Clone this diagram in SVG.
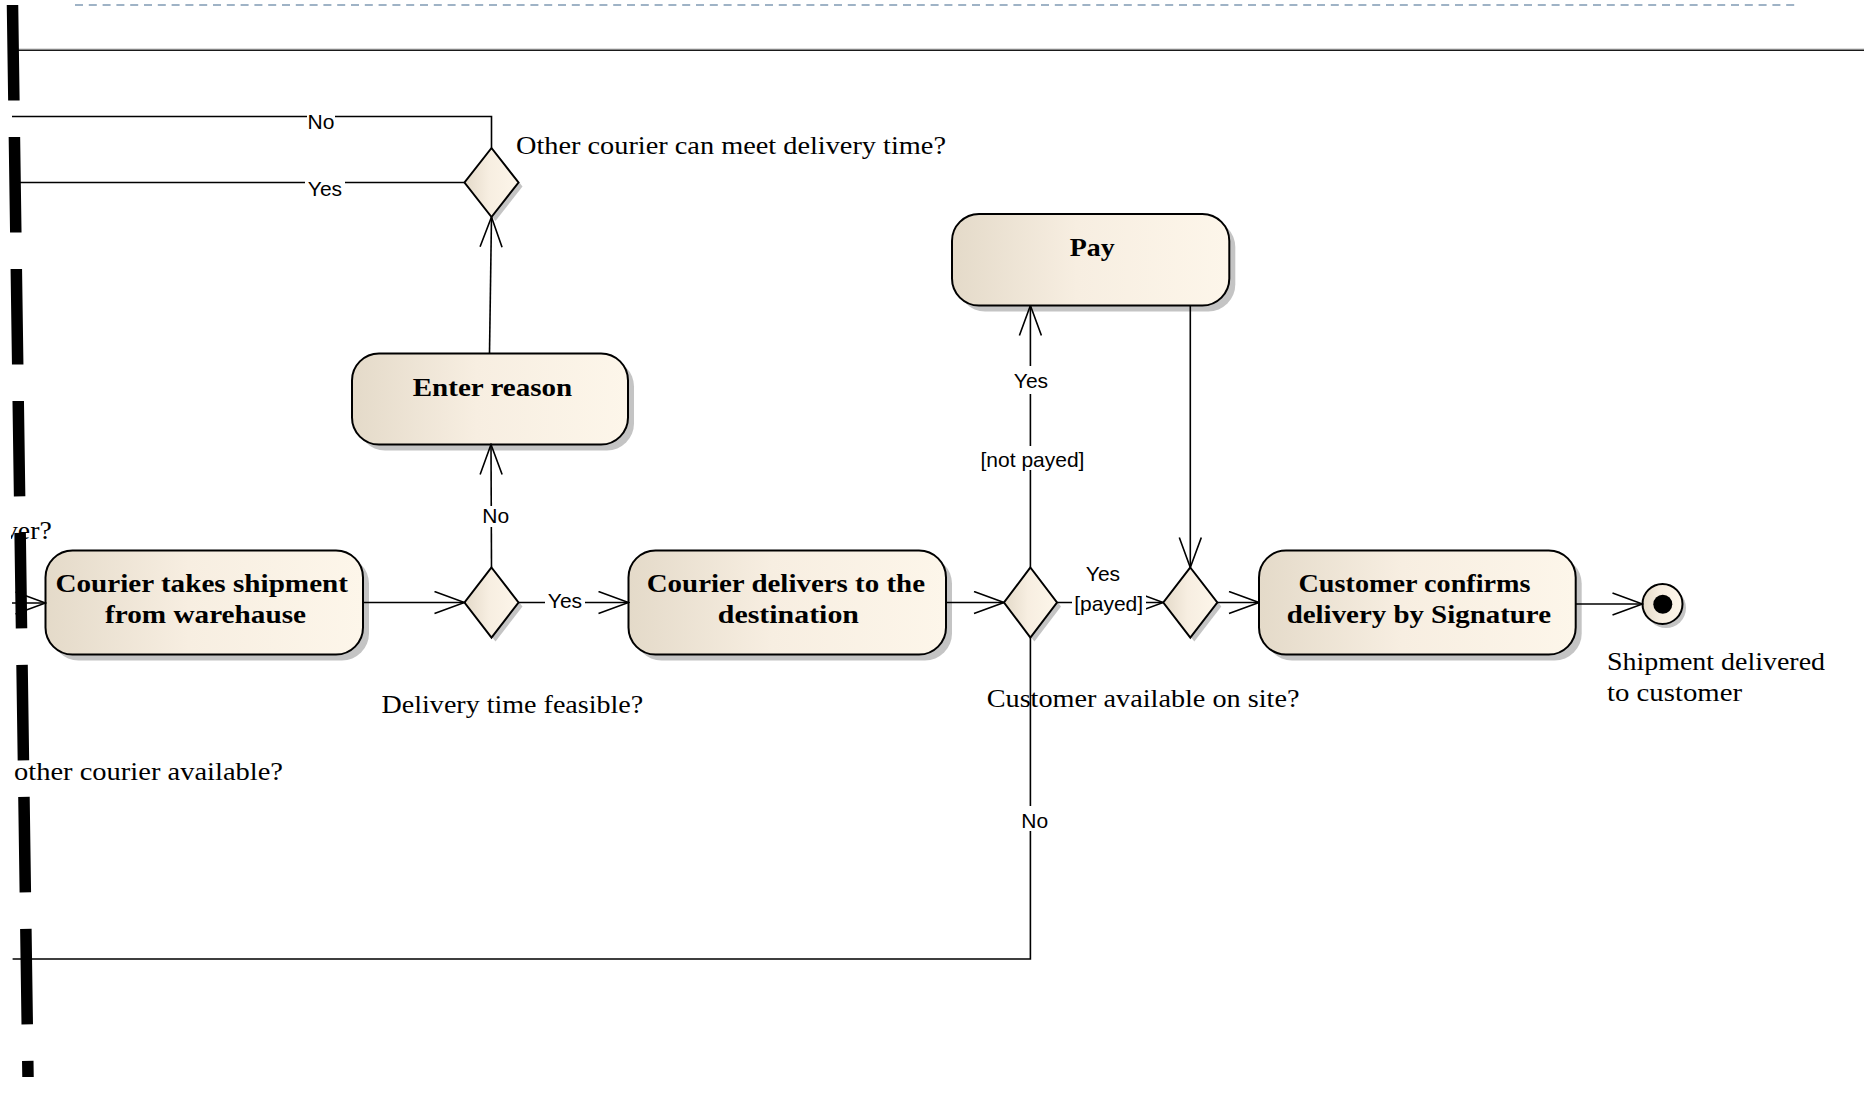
<svg xmlns="http://www.w3.org/2000/svg" width="1864" height="1097" viewBox="0 0 1864 1097">
<style>
.bg{fill:#ffffff}
.node{stroke:#000;stroke-width:2;fill:url(#g)}
.shadow{fill:#c4c4c4;stroke:none}
.conn{fill:none;stroke:#000;stroke-width:1.6}
.arr{marker-end:url(#ah)}
.ntext{font-family:"Liberation Serif","Times New Roman",serif;font-weight:bold;font-size:26px;fill:#000}
.ftext{font-family:"Liberation Serif","Times New Roman",serif;font-size:25px;fill:#000}
.lbl{font-family:"Liberation Sans",Arial,sans-serif;font-size:21px;fill:#000;text-anchor:middle}
.lblbg{fill:#fff}
</style>
<defs>
<linearGradient id="g" x1="0" y1="0" x2="1" y2="0">
<stop offset="0" stop-color="#e4dac9"/>
<stop offset="0.45" stop-color="#f7eee1"/>
<stop offset="1" stop-color="#fdf6ea"/>
</linearGradient>
<marker id="ah" viewBox="0 0 32 24" refX="31" refY="12" markerWidth="32" markerHeight="24" markerUnits="userSpaceOnUse" orient="auto">
<path d="M1,1 L31,12 L1,23" fill="none" stroke="#000" stroke-width="1.6"/>
</marker>
<clipPath id="leftclip"><rect x="11" y="0" width="200" height="1097"/></clipPath>
</defs>
<rect class="bg" x="0" y="0" width="1864" height="1097"/>

<g id="frame">
<line x1="75" y1="5" x2="1800" y2="5" stroke="#9fb3c6" stroke-width="2.2" stroke-dasharray="8 5.8"/>
<line x1="12" y1="48.8" x2="1864" y2="48.8" stroke="#d0d0d0" stroke-width="1"/>
<line x1="12" y1="50.3" x2="1864" y2="50.3" stroke="#1a1a1a" stroke-width="1.5"/>
</g>

<g id="node-enter-reason">
<rect class="shadow" x="358" y="359.5" width="276" height="91" rx="27"/>
<rect class="node" x="352" y="353.5" width="276" height="91" rx="27"/>
<text class="ntext" x="412.7" y="395.7" textLength="159.6" lengthAdjust="spacingAndGlyphs">Enter reason</text>
</g>

<g id="node-courier-takes">
<rect class="shadow" x="51.5" y="556.5" width="317.5" height="104" rx="27"/>
<rect class="node" x="45.5" y="550.5" width="317.5" height="104" rx="27"/>
<text class="ntext" x="55.4" y="592.3" textLength="292.6" lengthAdjust="spacingAndGlyphs">Courier takes shipment</text>
<text class="ntext" x="105" y="623.3" textLength="201" lengthAdjust="spacingAndGlyphs">from warehause</text>
</g>

<g id="node-courier-delivers">
<rect class="shadow" x="634.5" y="556.5" width="317.5" height="104" rx="27"/>
<rect class="node" x="628.5" y="550.5" width="317.5" height="104" rx="27"/>
<text class="ntext" x="646.7" y="592" textLength="278.3" lengthAdjust="spacingAndGlyphs">Courier delivers to the</text>
<text class="ntext" x="717.8" y="623" textLength="141.2" lengthAdjust="spacingAndGlyphs">destination</text>
</g>

<g id="node-pay">
<rect class="shadow" x="958" y="220" width="277.3" height="91.5" rx="27"/>
<rect class="node" x="952" y="214" width="277.3" height="91.5" rx="27"/>
<text class="ntext" x="1069.7" y="255.7" textLength="45" lengthAdjust="spacingAndGlyphs">Pay</text>
</g>

<g id="node-customer-confirms">
<rect class="shadow" x="1265" y="556.5" width="316.7" height="104" rx="27"/>
<rect class="node" x="1259" y="550.5" width="316.7" height="104" rx="27"/>
<text class="ntext" x="1298.5" y="592" textLength="232" lengthAdjust="spacingAndGlyphs">Customer confirms</text>
<text class="ntext" x="1286.7" y="623" textLength="264.3" lengthAdjust="spacingAndGlyphs">delivery by Signature</text>
</g>

<g id="decision-other-courier">
<polygon class="shadow" points="495.5,152 522.5,186.5 495.5,221 468.5,186.5"/>
<polygon class="node" points="491.5,148 518.5,182.5 491.5,217 464.5,182.5"/>
<text class="ftext" x="516" y="154" textLength="430" lengthAdjust="spacingAndGlyphs">Other courier can meet delivery time?</text>
</g>

<g id="decision-delivery-time">
<polygon class="shadow" points="495.5,571.5 522.5,606.5 495.5,641.5 468.5,606.5"/>
<polygon class="node" points="491.5,567.5 518.5,602.5 491.5,637.5 464.5,602.5"/>
<text class="ftext" x="381.6" y="713" textLength="261.6" lengthAdjust="spacingAndGlyphs">Delivery time feasible?</text>
</g>

<g id="decision-customer-available">
<polygon class="shadow" points="1034.4,571.5 1061,606.5 1034.4,641.5 1008,606.5"/>
<polygon class="node" points="1030.4,567.5 1057,602.5 1030.4,637.5 1004,602.5"/>
<text class="ftext" x="986.7" y="707" textLength="312.8" lengthAdjust="spacingAndGlyphs">Customer available on site?</text>
</g>

<g id="merge-payment">
<polygon class="shadow" points="1194.3,571.5 1221.3,606.5 1194.3,641.5 1167.3,606.5"/>
<polygon class="node" points="1190.3,567.5 1217.3,602.5 1190.3,637.5 1163.3,602.5"/>
</g>

<g id="final-node">
<circle class="shadow" cx="1666" cy="608" r="20"/>
<circle class="node" cx="1662.5" cy="604" r="20"/>
<circle cx="1662.8" cy="604.2" r="9.5" fill="#000"/>
<text class="ftext" x="1607" y="670" textLength="218" lengthAdjust="spacingAndGlyphs">Shipment delivered</text>
<text class="ftext" x="1607" y="700.7" textLength="135" lengthAdjust="spacingAndGlyphs">to customer</text>
</g>

<g id="connectors">
<polyline class="conn" points="12,116.5 491.5,116.5 491.5,147.7"/>
<line class="conn" x1="12" y1="182.5" x2="464.5" y2="182.5"/>
<line class="conn arr" x1="489.5" y1="353.5" x2="491.5" y2="217"/>
<line class="conn arr" x1="491.5" y1="567.5" x2="491" y2="444.5"/>
<line class="conn arr" x1="12" y1="603" x2="45.5" y2="603"/>
<line class="conn arr" x1="363" y1="602.5" x2="464.5" y2="602.5"/>
<line class="conn arr" x1="518.5" y1="602.5" x2="628.5" y2="602.5"/>
<line class="conn arr" x1="946" y1="602.5" x2="1004" y2="602.5"/>
<line class="conn arr" x1="1030.4" y1="567.5" x2="1030.4" y2="305.5"/>
<line class="conn arr" x1="1190.3" y1="305.5" x2="1190.3" y2="567.5"/>
<line class="conn arr" x1="1057" y1="602.5" x2="1163.3" y2="602.5"/>
<line class="conn arr" x1="1217.3" y1="602.5" x2="1259" y2="602.5"/>
<line class="conn arr" x1="1575.7" y1="604" x2="1642.5" y2="604"/>
<polyline class="conn" points="1030.4,637.5 1030.4,959 12.6,959"/>
</g>

<g id="labels">
<rect class="lblbg" x="307" y="112" width="28" height="20"/>
<text class="lbl" x="321" y="129.3">No</text>
<rect class="lblbg" x="305" y="179" width="40" height="20"/>
<text class="lbl" x="325" y="196">Yes</text>
<rect class="lblbg" x="482" y="506" width="27" height="21"/>
<text class="lbl" x="495.7" y="523">No</text>
<rect class="lblbg" x="545" y="591" width="40" height="20"/>
<text class="lbl" x="565" y="608">Yes</text>
<rect class="lblbg" x="1012" y="366" width="38" height="28"/>
<text class="lbl" x="1031" y="387.7">Yes</text>
<rect class="lblbg" x="976" y="446" width="113" height="24"/>
<text class="lbl" x="1032.5" y="466.7">[not payed]</text>
<text class="lbl" x="1103" y="581">Yes</text>
<rect class="lblbg" x="1072" y="589" width="74" height="27"/>
<text class="lbl" x="1108.7" y="611">[payed]</text>
<rect class="lblbg" x="1020" y="806" width="29" height="25"/>
<text class="lbl" x="1034.7" y="828.3">No</text>
</g>

<g id="offpage-texts">
<text class="ftext" x="4" y="539.3" textLength="47.7" lengthAdjust="spacingAndGlyphs" clip-path="url(#leftclip)">ver?</text>
<text class="ftext" x="14" y="780" textLength="269" lengthAdjust="spacingAndGlyphs">other courier available?</text>
</g>

<g id="cut-marker">
<line x1="12.5" y1="5" x2="28" y2="1077" stroke="#000" stroke-width="11.5" stroke-dasharray="95.5 36.5"/>
</g>
</svg>
